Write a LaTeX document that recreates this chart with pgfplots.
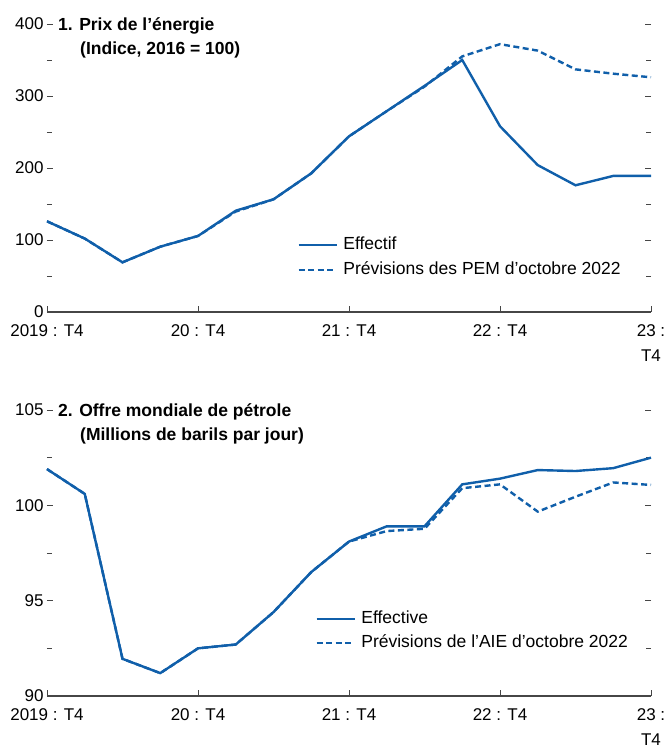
\documentclass[border=0pt]{standalone}
\usepackage{fontspec}
\setmainfont{Liberation Sans}
\usepackage{pgfplots}
\usepackage{pgfplotstable}
\pgfplotsset{compat=1.18}
\definecolor{imfblue}{RGB}{16,95,170}
\definecolor{axgray}{RGB}{70,70,70}

\pgfplotstableread{
x act fc
0 126 126
1 102 102
2 69 69
3 90.7 90.7
4 105.6 105.6
5 140.7 139.5
6 156.5 156.5
7 192.6 192.6
8 244 244
9 279 279
10 314 313
11 350 355
12 258 372
13 204 363
14 176 337
15 189 331
16 189 326
}\energy

\pgfplotstableread{
x act fc
0 101.9 101.9
1 100.6 100.6
2 91.95 91.95
3 91.2 91.2
4 92.5 92.5
5 92.7 92.7
6 94.4 94.4
7 96.5 96.5
8 98.1 98.1
9 98.9 98.65
10 98.9 98.77
11 101.1 100.9
12 101.4 101.1
13 101.85 99.67
14 101.8 100.45
15 101.95 101.2
16 102.5 101.07
}\oil

\tikzset{
  ttl/.style={anchor=base west, inner sep=0pt, font=\fontsize{17.5}{24}\selectfont\bfseries},
  actual/.style={imfblue, line width=2.4pt},
  fcast/.style={imfblue, line width=2.4pt, dash pattern=on 6pt off 3.5pt},
}

\pgfplotsset{
  panel/.style={
    scale only axis,
    width=604pt,
    xmin=0, xmax=16,
    clip=false,
    axis line style={draw=none},
    tick align=inside,
    major tick length=6pt,
    minor tick length=5pt,
    tick style={axgray, line width=0.9pt},
    xtick={0,4,8,12,16},
    xticklabels={2019 : T4, 20 : T4, 21 : T4, 22 : T4, {23 :\\T4}},
    xtick pos=bottom,
    ytick pos=both,
    yticklabel pos=left,
    xticklabel style={align=center, font=\fontsize{17}{25}\selectfont, text=black, yshift=-9pt},
    yticklabel style={font=\fontsize{17}{20}\selectfont, text=black},
    /pgf/number format/assume math mode=true,
    /pgf/number format/1000 sep={},
    legend cell align=left,
    legend image code/.code={\draw[##1] (0pt,0pt) -- (38pt,0pt);},
    legend style={draw=none, fill=none, inner sep=0pt, outer sep=0pt,
      font=\fontsize{17.5}{20}\selectfont,
      nodes={inner sep=1.5pt, text height=13pt, text depth=4pt},
      row sep=5pt,
      /tikz/every odd column/.append style={column sep=4pt}},
  },
}

\begin{document}
\begin{tikzpicture}
\useasboundingbox (-47pt,-434pt) rectangle (619pt,312pt);
\begin{axis}[panel,
  at={(0pt,0pt)}, anchor=south west,
  height=288pt,
  ymin=0, ymax=400,
  ytick={0,100,200,300,400},
  minor ytick={50,150,250,350},
  legend style={at={(rel axis cs:0.4147,0.267)}, anchor=north west},
]
\draw[axgray, line width=1.1pt] (rel axis cs:0,0) -- (rel axis cs:1,0);
\addplot[actual] table[x=x,y=act]{\energy};
\addlegendentry{Effectif}
\addplot[fcast] table[x=x,y=fc]{\energy};
\addlegendentry{Prévisions des PEM d’octobre 2022}
\node[ttl] at ([xshift=11pt,yshift=-6.5pt]axis cs:0,400) {1. Prix de l’énergie};
\node[ttl] at ([xshift=33pt,yshift=-30.5pt]axis cs:0,400) {(Indice, 2016 = 100)};
\end{axis}

\begin{axis}[panel,
  at={(0pt,-384pt)}, anchor=south west,
  height=286pt,
  ymin=90, ymax=105,
  ytick={90,95,100,105},
  minor ytick={92.5,97.5,102.5},
  legend style={at={(rel axis cs:0.4445,0.304)}, anchor=north west, row sep=4pt},
]
\draw[axgray, line width=1.1pt] (rel axis cs:0,0) -- (rel axis cs:1,0);
\addplot[actual] table[x=x,y=act]{\oil};
\addlegendentry{Effective}
\addplot[fcast] table[x=x,y=fc]{\oil};
\addlegendentry{Prévisions de l’AIE d’octobre 2022}
\node[ttl] at ([xshift=11pt,yshift=-6.5pt]axis cs:0,105) {2. Offre mondiale de pétrole};
\node[ttl] at ([xshift=33pt,yshift=-30.5pt]axis cs:0,105) {(Millions de barils par jour)};
\end{axis}
\end{tikzpicture}
\end{document}
